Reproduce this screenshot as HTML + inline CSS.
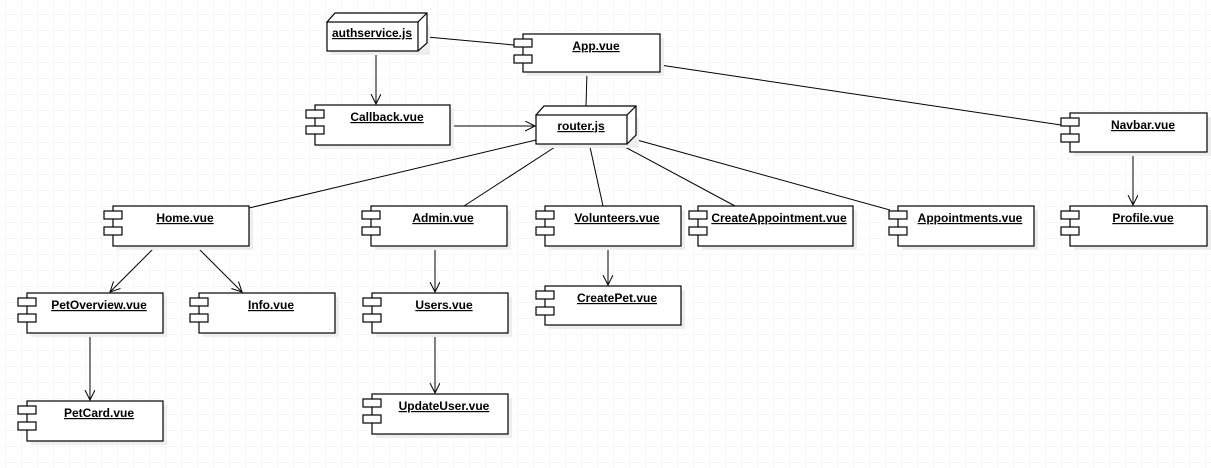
<!DOCTYPE html>
<html><head><meta charset="utf-8"><style>
html,body{margin:0;padding:0;background:#fff;}
svg{display:block;}
text{font-family:"Liberation Sans",sans-serif;font-size:12px;font-weight:bold;text-decoration:underline;fill:#000;stroke:none;}
.c rect.s{fill:#eee;stroke:none;}
.c rect{fill:#fff;stroke:#000;stroke-width:1.2;}
</style></head><body>
<svg width="1211" height="468" viewBox="0 0 1211 468" xmlns="http://www.w3.org/2000/svg">
<defs>
<pattern id="g" x="5" y="14" width="16" height="16" patternUnits="userSpaceOnUse">
<path d="M0 0H16M0 0V16" stroke="#efefef" stroke-width="1" fill="none"/>
</pattern>
<marker id="a" markerWidth="12" markerHeight="12" refX="10" refY="5" orient="auto" markerUnits="userSpaceOnUse">
<path d="M0 0L10 5L0 10" fill="none" stroke="#000" stroke-width="1"/>
</marker>
</defs>
<rect width="1211" height="468" fill="#fff"/>
<rect width="1211" height="468" fill="url(#g)"/>

<g stroke="#000" stroke-width="1" fill="none">
<line x1="427" y1="37" x2="514" y2="45"/>
<line x1="376" y1="52" x2="376" y2="104" marker-end="url(#a)"/>
<line x1="587" y1="72" x2="586" y2="106"/>
<line x1="660" y1="65" x2="1061" y2="125"/>
<line x1="450" y1="126" x2="535" y2="126" marker-end="url(#a)"/>
<line x1="536" y1="140" x2="249" y2="208"/>
<line x1="555" y1="147" x2="464" y2="206"/>
<line x1="590" y1="147" x2="603" y2="206"/>
<line x1="625" y1="147" x2="735" y2="206"/>
<line x1="637" y1="140" x2="890" y2="210"/>
<line x1="1133" y1="152" x2="1133" y2="205" marker-end="url(#a)"/>
<line x1="156" y1="246" x2="110" y2="292" marker-end="url(#a)"/>
<line x1="196" y1="246" x2="242" y2="292" marker-end="url(#a)"/>
<line x1="435" y1="246" x2="435" y2="292" marker-end="url(#a)"/>
<line x1="90" y1="333" x2="90" y2="400" marker-end="url(#a)"/>
<line x1="435" y1="333" x2="435" y2="393" marker-end="url(#a)"/>
<line x1="608" y1="246" x2="608" y2="285" marker-end="url(#a)"/>
</g>

<g stroke="#000" stroke-width="1.2" fill="#fff">
<rect x="330" y="25" width="100" height="30" fill="#eee" stroke="none"/>
<path d="M327 22 L335 13 L427 13 L427 43 L418 51 Z"/>
<rect x="327" y="22" width="91" height="29"/>
<path d="M418 22 L427 13"/>
<rect x="539" y="118" width="100" height="30" fill="#eee" stroke="none"/>
<path d="M536 115 L544 106 L636 106 L636 135 L627 144 Z"/>
<rect x="536" y="115" width="91" height="29"/>
<path d="M627 115 L636 106"/>
</g>
<text x="372" y="37" text-anchor="middle">authservice.js</text>
<text x="581" y="130" text-anchor="middle">router.js</text>

<g class="c">
<rect class="s" x="527" y="38" width="137" height="38"/><rect x="523" y="34" width="137" height="38"/><rect x="514" y="39" width="18" height="8"/><rect x="514" y="55" width="18" height="8"/><text x="596" y="50" text-anchor="middle">App.vue</text>

<rect class="s" x="319" y="109" width="135" height="40"/><rect x="315" y="105" width="135" height="40"/><rect x="306" y="110" width="18" height="8"/><rect x="306" y="126" width="18" height="8"/><text x="387" y="121" text-anchor="middle">Callback.vue</text>

<rect class="s" x="1074" y="117" width="137" height="39"/><rect x="1070" y="113" width="137" height="39"/><rect x="1061" y="118" width="18" height="8"/><rect x="1061" y="134" width="18" height="8"/><text x="1143" y="129" text-anchor="middle">Navbar.vue</text>

<rect class="s" x="117" y="210" width="136" height="40"/><rect x="113" y="206" width="136" height="40"/><rect x="104" y="211" width="18" height="8"/><rect x="104" y="227" width="18" height="8"/><text x="185" y="222" text-anchor="middle">Home.vue</text>

<rect class="s" x="375" y="210" width="136" height="40"/><rect x="371" y="206" width="136" height="40"/><rect x="362" y="211" width="18" height="8"/><rect x="362" y="227" width="18" height="8"/><text x="443" y="222" text-anchor="middle">Admin.vue</text>

<rect class="s" x="549" y="210" width="136" height="40"/><rect x="545" y="206" width="136" height="40"/><rect x="536" y="211" width="18" height="8"/><rect x="536" y="227" width="18" height="8"/><text x="617" y="222" text-anchor="middle">Volunteers.vue</text>

<rect class="s" x="702" y="210" width="155" height="40"/><rect x="698" y="206" width="155" height="40"/><rect x="689" y="211" width="18" height="8"/><rect x="689" y="227" width="18" height="8"/><text x="779" y="222" text-anchor="middle">CreateAppointment.vue</text>

<rect class="s" x="902" y="210" width="136" height="40"/><rect x="898" y="206" width="136" height="40"/><rect x="889" y="211" width="18" height="8"/><rect x="889" y="227" width="18" height="8"/><text x="970" y="222" text-anchor="middle">Appointments.vue</text>

<rect class="s" x="1074" y="210" width="137" height="40"/><rect x="1070" y="206" width="137" height="40"/><rect x="1061" y="211" width="18" height="8"/><rect x="1061" y="227" width="18" height="8"/><text x="1143" y="222" text-anchor="middle">Profile.vue</text>

<rect class="s" x="31" y="297" width="136" height="40"/><rect x="27" y="293" width="136" height="40"/><rect x="18" y="298" width="18" height="8"/><rect x="18" y="314" width="18" height="8"/><text x="99" y="309" text-anchor="middle">PetOverview.vue</text>

<rect class="s" x="203" y="297" width="136" height="40"/><rect x="199" y="293" width="136" height="40"/><rect x="190" y="298" width="18" height="8"/><rect x="190" y="314" width="18" height="8"/><text x="271" y="309" text-anchor="middle">Info.vue</text>

<rect class="s" x="376" y="297" width="136" height="40"/><rect x="372" y="293" width="136" height="40"/><rect x="363" y="298" width="18" height="8"/><rect x="363" y="314" width="18" height="8"/><text x="444" y="309" text-anchor="middle">Users.vue</text>

<rect class="s" x="549" y="290" width="136" height="39"/><rect x="545" y="286" width="136" height="39"/><rect x="536" y="291" width="18" height="8"/><rect x="536" y="307" width="18" height="8"/><text x="617" y="302" text-anchor="middle">CreatePet.vue</text>

<rect class="s" x="31" y="405" width="136" height="40"/><rect x="27" y="401" width="136" height="40"/><rect x="18" y="406" width="18" height="8"/><rect x="18" y="422" width="18" height="8"/><text x="99" y="417" text-anchor="middle">PetCard.vue</text>

<rect class="s" x="376" y="398" width="136" height="40"/><rect x="372" y="394" width="136" height="40"/><rect x="363" y="399" width="18" height="8"/><rect x="363" y="415" width="18" height="8"/><text x="444" y="410" text-anchor="middle">UpdateUser.vue</text>
</g>
</svg>
</body></html>
